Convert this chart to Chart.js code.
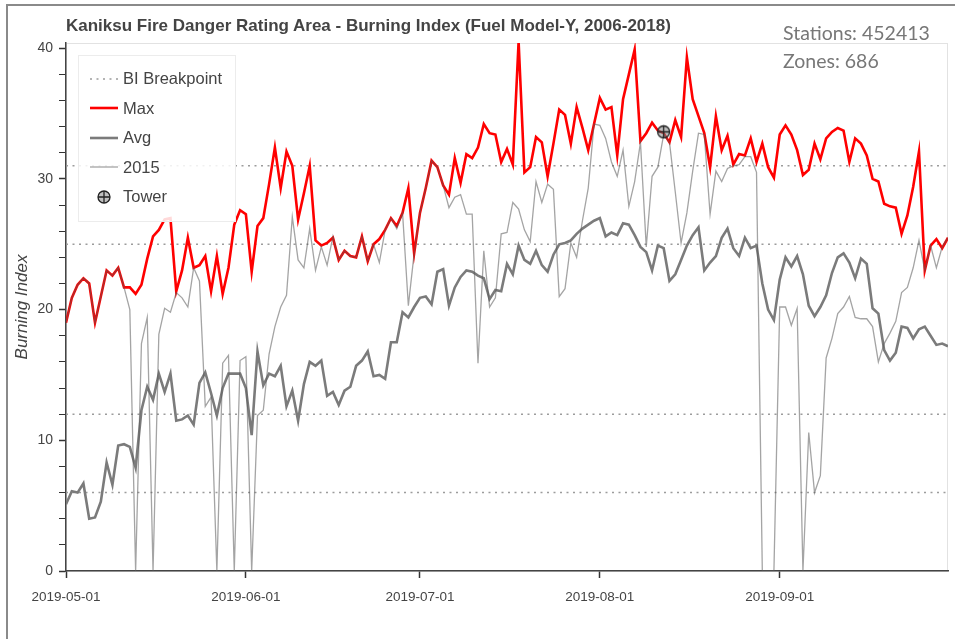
<!DOCTYPE html>
<html lang="en">
<head>
<meta charset="UTF-8">
<title>Kaniksu Burning Index</title>
<script src="https://cdn.jsdelivr.net/npm/chart.js"></script>
<style>
  html, body { margin: 0; padding: 0; background: #fff; }
  .wrap { position: relative; width: 955px; height: 639px; overflow: hidden; }
  #chart { position: absolute; left: 0; top: 0; }
  .frame { position: absolute; left: 6px; top: 4px; right: -10px; bottom: -10px;
           border-top: 2px solid #8a8a8a; border-left: 2px solid #8a8a8a; pointer-events: none; }
  .title { position: absolute; left: 66px; top: 16px; white-space: nowrap;
           font: bold 17px "Liberation Sans", Arial, sans-serif; line-height: 20px; color: #444; }
  .info { position: absolute; left: 783px; top: 19px;
          font: 19.5px Lato, sans-serif; line-height: 28px; color: #777; }
  .legend { position: absolute; left: 78px; top: 55px; width: 158px; height: 167px; box-sizing: border-box;
            border: 1px solid #ececec; background: rgba(255,255,255,0.85); padding-top: 8px; }
  .legend .item { display: flex; align-items: center; height: 29.5px; padding-left: 11px;
                  font: 16.5px "Liberation Sans", Arial, sans-serif; color: #444; }
  .legend svg { margin-right: 5px; }
</style>
</head>
<body>
<div class="wrap">
  <canvas id="chart" width="955" height="639"></canvas>
  <div class="title">Kaniksu Fire Danger Rating Area - Burning Index (Fuel Model-Y, 2006-2018)</div>
  <div class="info">Stations: 452413<br>Zones: 686</div>
  <div class="legend" id="legend"></div>
  <div class="frame"></div>
</div>

<script>
// days counted from 2019-05-01 (day 0) to 2019-09-30 (day 152)
const tickDays = [0, 31, 61, 92, 123];
const tickLabels = ['2019-05-01', '2019-06-01', '2019-07-01', '2019-08-01', '2019-09-01'];
const lastDay = 152;

const breakpoints = [6, 12, 25, 31];

const maxBI = [
  19.0, 20.9, 21.9, 22.4, 22.0, 19.0, 21.0, 23.0, 22.6, 23.2, 21.7, 21.7, 21.2, 21.9, 23.9, 25.6, 26.1, 26.9, 27.0, 21.4, 23.0, 25.5, 23.2, 23.4, 24.1, 21.4,
  24.1, 21.2, 23.2, 26.5, 27.6, 27.3, 22.9, 26.4, 27.0, 29.6, 32.4, 29.3, 32.1, 31.0, 26.9, 28.9, 31.0, 25.3, 24.9, 25.1, 25.5, 23.8, 24.5, 24.1, 24.0, 25.6,
  23.7, 25.0, 25.4, 26.1, 27.0, 26.4, 27.4, 29.3, 24.3, 27.4, 29.3, 31.4, 30.9, 29.5, 28.8, 31.6, 29.7, 31.9, 31.6, 32.4, 34.2, 33.5, 33.4, 31.3,
  32.3, 31.1, 40.5, 30.5, 30.9, 33.2, 32.8, 30.2, 32.7, 35.3, 34.9, 32.7, 35.5, 33.9, 32.2, 34.2, 36.2, 35.3, 35.5, 31.8, 36.1, 38.0, 39.9, 32.9, 33.5,
  34.3, 33.7, 33.5, 32.8, 34.5, 33.2, 39.3, 36.1, 34.8, 33.5, 30.9, 34.8, 32.2, 33.3, 31.1, 31.9, 31.8, 33.1, 31.3, 32.7, 30.9, 30.1, 33.4, 34.1, 33.4,
  32.2, 30.3, 30.7, 32.7, 31.5, 33.1, 33.6, 33.9, 33.7, 31.3, 33.1, 32.7, 31.8, 30.0, 29.8, 28.1, 27.9, 27.8, 25.8, 27.2, 29.4, 32.1, 23.0, 24.9, 25.4, 24.7, 25.5
];

const avgBI = [
  5.1, 6.1, 6.0, 6.7, 4.0, 4.1, 5.3, 8.3, 6.6, 9.6, 9.7, 9.5, 7.9, 12.3, 14.1, 13.1, 15.1, 13.7, 15.1, 11.5, 11.6, 11.9, 11.2, 14.4, 15.2, 13.6,
  11.9, 14.0, 15.1, 15.1, 15.1, 14.0, 10.4, 16.8, 14.2, 15.1, 14.9, 15.7, 12.6, 13.8, 11.5, 14.3, 16.0, 15.7, 16.1, 13.4, 13.7, 12.7, 13.8, 14.1, 15.7, 16.1,
  16.8, 14.9, 15.0, 14.7, 17.5, 17.5, 19.8, 19.4, 20.2, 20.9, 21.0, 20.4, 22.9, 23.1, 20.3, 21.7, 22.5, 23.0, 22.9, 22.6, 22.4, 20.8, 21.5, 21.4,
  23.5, 22.7, 24.9, 23.8, 23.5, 24.5, 23.4, 22.9, 24.2, 25.0, 25.1, 25.3, 25.8, 26.2, 26.5, 26.8, 27.0, 25.6, 25.9, 25.7, 26.6, 26.5, 25.7, 24.8, 24.4,
  23.0, 24.9, 24.7, 22.2, 22.7, 23.8, 24.9, 25.7, 26.3, 23.0, 23.6, 24.1, 25.5, 26.2, 24.7, 24.1, 25.5, 24.7, 24.9, 22.0, 20.0, 19.2, 22.3, 24.0, 23.3,
  24.1, 22.7, 20.3, 19.5, 20.2, 21.1, 22.8, 24.0, 24.3, 23.6, 22.4, 23.9, 23.5, 20.1, 19.7, 16.9, 16.1, 16.7, 18.7, 18.6, 17.8, 18.5, 18.7, 18.0, 17.3, 17.4, 17.2
];

const bi2015 = [
  19.0, 20.9, 21.9, 22.4, 22.0, 19.0, 21.0, 23.0, 22.6, 23.2, 21.7,
  20.0, 0, 17.4, 19.4, 0, 18.1, 20.1, 19.8, 21.3, 20.9, 20.2, 23.2, 22.2, 12.6, 13.3,
  0, 15.9, 16.5, 0, 16.1, 16.4, 0, 11.9, 12.3, 16.6, 18.7, 20.2, 21.1, 27.1, 23.8, 23.2, 26.2, 23.0, 24.8, 23.4, 25.6,
  23.8, 24.5, 24.1, 24.0, 25.6, 23.7, 25.0,
  23.6, 26.1, 27.0, 26.2, 27.4, 20.3, 24.3, 27.4, 29.3, 31.4, 30.9, 29.5, 27.8, 28.6, 28.8, 27.3, 27.3, 15.9, 24.5, 20.2, 20.9, 25.8,
  25.9, 28.2, 27.7, 26.1, 25.2, 29.8, 28.2, 29.6, 29.2, 21.0, 21.6, 25.1, 24.0, 26.8, 29.3, 34.2, 34.1, 33.1, 31.3, 30.2, 32.2, 27.9, 29.8, 32.8, 24.8,
  30.2, 30.9, 33.4, 32.8, 29.0, 25.1, 27.4, 30.6, 33.5, 33.4, 27.3, 30.6, 29.8, 30.8, 31.0, 31.1, 31.7, 31.7, 30.5, 0, 0, 0, 20.2, 20.2, 18.8,
  20.1, 0, 10.6, 6.0, 7.3, 16.3, 17.8, 19.7, 20.2, 21.0, 19.4, 19.3, 19.3, 18.7, 16.0, 17.4, 18.2, 19.1, 21.3, 21.7, 23.2, 25.3, 23.0, 24.9, 23.2, 24.8, 25.5
];

// tower reading (2019-08-12)
const towerDay = 103;
const towerBI = 33.6;

const font = '"Liberation Sans", Arial, sans-serif';

function toPoints(arr) {
  return arr.map((v, i) => ({ x: i, y: v }));
}

const breakpointData = [];
breakpoints.forEach(b => {
  breakpointData.push({ x: 0, y: b }, { x: lastDay, y: b }, { x: lastDay, y: null });
});

function makeTowerIcon() {
  const c = document.createElement('canvas');
  c.width = 15; c.height = 15;
  const g = c.getContext('2d');
  g.beginPath();
  g.arc(7.5, 7.5, 6, 0, Math.PI * 2);
  g.fillStyle = 'rgba(140,140,140,0.55)';
  g.fill();
  g.lineWidth = 1.3;
  g.strokeStyle = '#222';
  g.stroke();
  g.beginPath();
  g.moveTo(1.5, 7.5); g.lineTo(13.5, 7.5);
  g.moveTo(7.5, 1.5); g.lineTo(7.5, 13.5);
  g.stroke();
  return c;
}

// light frame round the plot
const plotFrame = {
  id: 'plotFrame',
  beforeDraw(chart) {
    const { ctx, chartArea: a } = chart;
    ctx.save();
    ctx.strokeStyle = '#e2e2e2';
    ctx.lineWidth = 1;
    ctx.strokeRect(a.left + 0.5, a.top + 0.5, a.right - a.left - 1, a.bottom - a.top);
    ctx.restore();
  }
};

const chart = new Chart(document.getElementById('chart'), {
  type: 'line',
  data: {
    datasets: [
      { label: 'BI Breakpoint', data: breakpointData, borderColor: '#9c9c9c', borderWidth: 1.5,
        borderDash: [2, 4.5], pointRadius: 0, spanGaps: false, order: 4 },
      { label: 'Max', data: toPoints(maxBI), borderColor: '#ff0000', borderWidth: 2.6, pointRadius: 0, order: 3 },
      { label: 'Avg', data: toPoints(avgBI), borderColor: '#7b7b7b', borderWidth: 2.6, pointRadius: 0, order: 2 },
      { label: '2015', data: toPoints(bi2015), borderColor: 'rgba(90,90,90,0.55)', borderWidth: 1.3, pointRadius: 0, order: 1 },
      { label: 'Tower', data: [{ x: towerDay, y: towerBI }], showLine: false, pointStyle: makeTowerIcon(),
        pointRadius: 6, order: 0 }
    ]
  },
  options: {
    responsive: false,
    animation: false,
    devicePixelRatio: 1,
    layout: { padding: { left: 0, top: 43, right: 2, bottom: 0 } },
    plugins: {
      legend: { display: false },
      tooltip: { enabled: false }
    },
    scales: {
      x: {
        type: 'linear',
        min: 0,
        max: lastDay,
        afterFit: s => { s.height = 68; },
        afterBuildTicks: s => { s.ticks = tickDays.map(v => ({ value: v })); },
        ticks: {
          callback: v => tickLabels[tickDays.indexOf(v)],
          color: '#444',
          font: { family: font, size: 13.5 },
          padding: 11,
          maxRotation: 0,
          autoSkip: false
        },
        grid: { drawOnChartArea: false, tickLength: 7, tickColor: '#333', tickWidth: 1.5 },
        border: { color: '#444', width: 1.5 }
      },
      y: {
        min: 0,
        max: 40.4,
        afterFit: s => { s.width = 66; },
        ticks: {
          stepSize: 2,
          includeBounds: false,
          autoSkip: false,
          callback: v => (v % 10 === 0 ? v : ''),
          color: '#444',
          font: { family: font, size: 14 },
          padding: 6
        },
        grid: {
          drawOnChartArea: false,
          tickLength: 7,
          tickColor: '#333',
          tickWidth: c => (c.tick && c.tick.value % 10 === 0 ? 1.5 : 1)
        },
        border: { color: '#444', width: 1.5 },
        title: {
          display: true,
          text: 'Burning Index',
          color: '#444',
          font: { family: font, size: 17, style: 'italic' },
          padding: { top: 12, bottom: 0 }
        }
      }
    }
  },
  plugins: [plotFrame]
});

// legend box inside the plot, built from the datasets
const legendBox = document.getElementById('legend');
chart.data.datasets.forEach(ds => {
  const row = document.createElement('div');
  row.className = 'item';
  let icon;
  if (ds.showLine === false) {
    icon = '<svg width="28" height="16"><circle cx="14" cy="8" r="6" fill="rgba(140,140,140,0.55)" stroke="#222" stroke-width="1.3"/>' +
           '<path d="M8 8H20M14 2V14" stroke="#222" stroke-width="1.3"/></svg>';
  } else {
    icon = '<svg width="28" height="16"><line x1="0" y1="8" x2="28" y2="8" stroke="' + ds.borderColor +
           '" stroke-width="' + ds.borderWidth + '" stroke-dasharray="' + (ds.borderDash || []).join(' ') + '"/></svg>';
  }
  row.innerHTML = icon + '<span>' + ds.label + '</span>';
  legendBox.appendChild(row);
});
</script>
</body>
</html>
